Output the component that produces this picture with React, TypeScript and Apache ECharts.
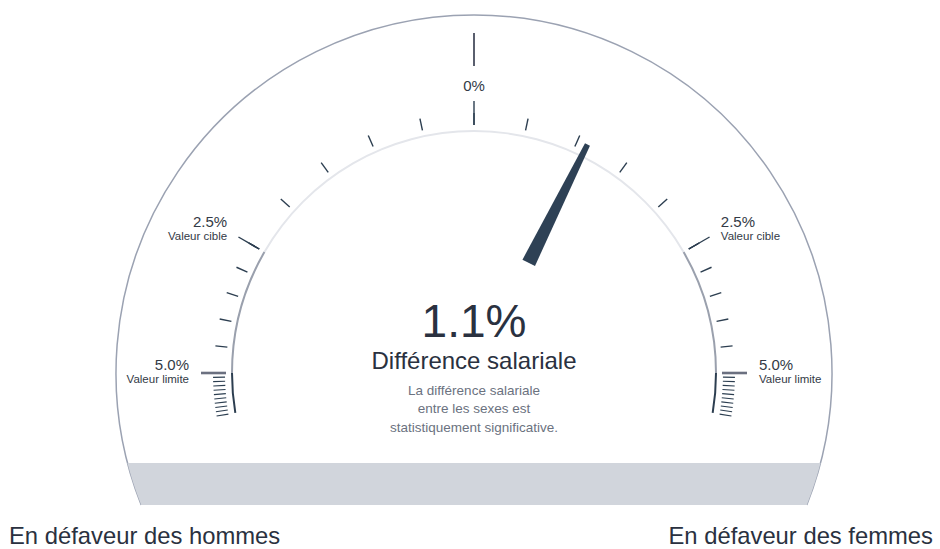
import React, { useEffect, useRef } from 'react';
import * as echarts from 'echarts';

// ---- data ----
const GAUGE_VALUE = [1.1];
const VALUE_NAME = ['Différence salariale'];
const SUBTITLE_LINES = ['La différence salariale', 'entre les sexes est', 'statistiquement significative.'];
const ZONE_BOUNDS = [0, 2.5, 5, 10]; // % (absolute)
const ZONE_DEG_PER_PCT = [24, 12, 1.9];
const ZONE_SPLITS = [5, 5, 10];
const TICK_LABEL_VALUES = [0, 2.5, 5];
const TICK_LABEL_TEXTS = ['0%', '2.5%', '5.0%'];
const TICK_LABEL_SUBS = ['', 'Valeur cible', 'Valeur limite'];
const SIDE_LABELS = ['En défaveur des hommes', 'En défaveur des femmes'];

// ---- layout ----
const W = 940;
const H = 549;
const CX = 474;
const CY = 373;
const OUTER_R = 358;
const BAND_TOP = 463;
const BAND_BOTTOM = 505;
const FONT = '"Liberation Sans", Arial, Helvetica, sans-serif';

const DARK = '#2c3e50';
const MID = '#9aa0ad';
const LIGHT = '#e4e6eb';
const TEXT = '#2a3140';

function degFromTop(absV: number): number {
  let d = 0;
  for (let i = 0; i < ZONE_DEG_PER_PCT.length; i++) {
    const lo = ZONE_BOUNDS[i];
    const hi = ZONE_BOUNDS[i + 1];
    if (absV <= lo) break;
    d += (Math.min(absV, hi) - lo) * ZONE_DEG_PER_PCT[i];
  }
  return d;
}
function toAngle(v: number): number {
  return 90 - Math.sign(v) * degFromTop(Math.abs(v));
}
function polar(angleDeg: number, r: number): [number, number] {
  const a = (angleDeg * Math.PI) / 180;
  return [CX + r * Math.cos(a), CY - r * Math.sin(a)];
}

function tickGauge(minV: number, maxV: number, splitNumber: number, radius: number, length: number, color: string, width: number, z: number, endOverride?: number) {
  return {
    type: 'gauge',
    center: [CX, CY],
    radius,
    min: minV,
    max: maxV,
    startAngle: toAngle(minV),
    endAngle: endOverride !== undefined ? endOverride : toAngle(maxV),
    splitNumber,
    silent: true,
    z,
    axisLine: { show: false, lineStyle: { width: 0 } },
    axisTick: { show: false },
    splitLine: { show: true, length, distance: 0, lineStyle: { color, width, cap: 'butt' } },
    axisLabel: { show: false },
    pointer: { show: false },
    anchor: { show: false },
    title: { show: false },
    detail: { show: false },
    progress: { show: false },
    data: [{ value: minV }],
  };
}

function buildOption() {
  const maxV = ZONE_BOUNDS[ZONE_BOUNDS.length - 1];
  const startA = toAngle(-maxV);
  const endA = toAngle(maxV);
  const span = startA - endA;
  const frac = (v: number) => (startA - toAngle(v)) / span;
  const b1 = ZONE_BOUNDS[1];
  const b2 = ZONE_BOUNDS[2];

  const series: any[] = [];
  // main axis arc
  series.push({
    type: 'gauge',
    center: [CX, CY],
    radius: 243,
    min: -maxV,
    max: maxV,
    startAngle: startA,
    endAngle: endA,
    silent: true,
    z: 2,
    axisLine: {
      show: true,
      lineStyle: {
        width: 2,
        color: [
          [frac(-b2), DARK],
          [frac(-b1), MID],
          [frac(b1), LIGHT],
          [frac(b2), MID],
          [1, DARK],
        ],
      },
    },
    axisTick: { show: false },
    splitLine: { show: false },
    axisLabel: { show: false },
    pointer: { show: false },
    anchor: { show: false },
    title: { show: false },
    detail: { show: false },
    data: [{ value: 0 }],
  });

  // minor ticks, per zone and side
  for (let i = 0; i < ZONE_SPLITS.length; i++) {
    const lo = ZONE_BOUNDS[i];
    const hi = ZONE_BOUNDS[i + 1];
    const radius = i === 2 ? 261 : 260;
    const w = i === 2 ? 1.1 : 1.4;
    if (i === 0) {
      series.push(tickGauge(-hi, hi, ZONE_SPLITS[i] * 2, radius, 12, DARK, w, 3));
    } else {
      series.push(tickGauge(-hi, -lo, ZONE_SPLITS[i], radius, 12, DARK, w, 3));
      series.push(tickGauge(lo, hi, ZONE_SPLITS[i], radius, 12, DARK, w, 3));
    }
  }
  // major ticks: 0 and ±2.5
  series.push(tickGauge(-b1, b1, 2, 272, 24, DARK, 1.4, 4));
  // major ticks: ±5
  series.push(tickGauge(-b2, b2, 1, 273, 25, '#6b7080', 2.6, 4));
  // outer part of the 0 tick
  series.push(tickGauge(0, 0.001, 1, 340, 33, '#4a5060', 1.4, 4, toAngle(0) - 0.0001));

  // needle + center texts
  series.push({
    type: 'gauge',
    center: [CX, CY],
    radius: 243,
    min: -b1,
    max: b1,
    startAngle: toAngle(-b1),
    endAngle: toAngle(b1),
    z: 6,
    axisLine: { show: false },
    axisTick: { show: false },
    splitLine: { show: false },
    axisLabel: { show: false },
    anchor: { show: false },
    progress: { show: false },
    pointer: {
      show: true,
      icon: 'path://M0,100 L14,100 L9.75,0 L4.25,0 Z',
      width: 14,
      length: 132,
      offsetCenter: [0, -123],
      keepAspect: false,
      itemStyle: { color: '#2e4155' },
    },
    title: {
      show: true,
      offsetCenter: [0, -13],
      fontSize: 24,
      color: TEXT,
      fontFamily: FONT,
    },
    detail: {
      show: true,
      offsetCenter: [0, -52],
      fontSize: 46,
      fontWeight: 'normal',
      color: TEXT,
      fontFamily: FONT,
      formatter: (v: number) => v.toFixed(1) + '%',
    },
    data: GAUGE_VALUE.map((v, i) => ({ value: v, name: VALUE_NAME[i] })),
  });

  // graphics
  const graphics: any[] = [];
  const a = Math.asin((BAND_BOTTOM - CY) / OUTER_R);
  graphics.push({
    type: 'arc',
    z: -10,
    silent: true,
    shape: { cx: CX, cy: CY, r: OUTER_R, startAngle: Math.PI - a, endAngle: 2 * Math.PI + a, clockwise: true },
    style: { stroke: '#9ba2b2', lineWidth: 1.5, fill: 'none' },
  });
  const left: number[][] = [];
  const right: number[][] = [];
  for (let y = BAND_TOP; y <= BAND_BOTTOM; y += 1) {
    const dx = Math.sqrt(OUTER_R * OUTER_R - (y - CY) * (y - CY));
    left.push([CX - dx, y]);
    right.unshift([CX + dx, y]);
  }
  graphics.push({
    type: 'polygon',
    z: -5,
    silent: true,
    shape: { points: left.concat(right) },
    style: { fill: '#d1d5dc', stroke: 'none' },
  });

  // tick labels
  TICK_LABEL_VALUES.forEach((v, i) => {
    const sides = v === 0 ? [0] : [-v, v];
    sides.forEach((sv) => {
      const ang = toAngle(sv);
      const [x, y] = polar(ang, v === 0 ? 288 : 285);
      const align = sv < 0 ? 'right' : sv > 0 ? 'left' : 'center';
      if (!TICK_LABEL_SUBS[i]) {
        graphics.push({
          type: 'text', x, y, silent: true,
          style: { text: TICK_LABEL_TEXTS[i], fill: '#333a46', fontSize: 15, fontFamily: FONT, align, verticalAlign: 'middle' },
        });
      } else {
        graphics.push({
          type: 'text', x, y: y - 9, silent: true,
          style: { text: TICK_LABEL_TEXTS[i], fill: '#333a46', fontSize: 15, fontFamily: FONT, align, verticalAlign: 'middle' },
        });
        graphics.push({
          type: 'text', x, y: y + 5.5, silent: true,
          style: { text: TICK_LABEL_SUBS[i], fill: '#333a46', fontSize: 11.5, fontFamily: FONT, align, verticalAlign: 'middle' },
        });
      }
    });
  });

  // subtitle
  SUBTITLE_LINES.forEach((line, i) => {
    graphics.push({
      type: 'text', x: CX, y: CY + 17 + i * 18.5, silent: true,
      style: { text: line, fill: '#6b7280', fontSize: 13.5, fontFamily: FONT, align: 'center', verticalAlign: 'middle' },
    });
  });

  // side labels
  graphics.push({
    type: 'text', x: 9, y: 535, silent: true,
    style: { text: SIDE_LABELS[0], fill: TEXT, fontSize: 23.8, fontFamily: FONT, align: 'left', verticalAlign: 'middle' },
  });
  graphics.push({
    type: 'text', x: 933, y: 535, silent: true,
    style: { text: SIDE_LABELS[1], fill: TEXT, fontSize: 23.8, fontFamily: FONT, align: 'right', verticalAlign: 'middle' },
  });

  return {
    animation: false,
    backgroundColor: '#ffffff',
    series,
    graphic: { elements: graphics },
  };
}

export default function App() {
  const ref = useRef<HTMLDivElement>(null);
  useEffect(() => {
    if (!ref.current) return;
    const chart = echarts.init(ref.current, null, { renderer: 'svg' });
    chart.setOption(buildOption() as any);
    return () => chart.dispose();
  }, []);
  return <div ref={ref} style={{ position: 'absolute', left: 0, top: 0, width: W, height: H }} />;
}
